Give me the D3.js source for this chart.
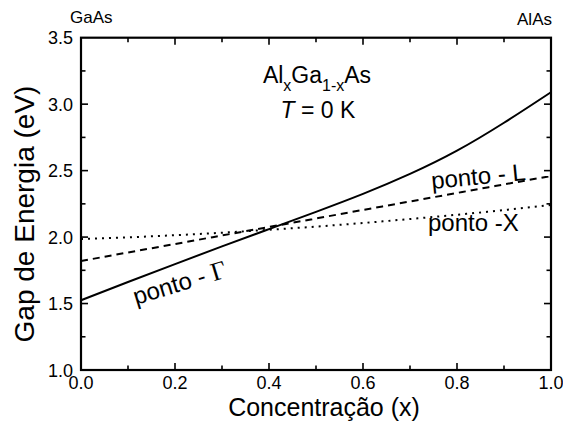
<!DOCTYPE html>
<html>
<head>
<meta charset="utf-8">
<script src="https://cdn.jsdelivr.net/npm/d3@7"></script>
<style>
  html, body { margin: 0; padding: 0; background: #fff; }
  svg { display: block; font-family: "Liberation Sans", Arial, Helvetica, sans-serif; }
</style>
</head>
<body>
<svg id="chart" width="563" height="428"></svg>
<script>
// Band gap of AlxGa1-xAs at T = 0 K versus Al concentration x
const concentration = [0.0, 0.1, 0.2, 0.3, 0.4, 0.5, 0.6, 0.7, 0.8, 0.9, 1.0];
const gammaGap = [1.525, 1.662, 1.797, 1.93, 2.06, 2.19, 2.325, 2.475, 2.65, 2.86, 3.09];
const lGap     = [1.82, 1.884, 1.948, 2.012, 2.076, 2.14, 2.204, 2.268, 2.332, 2.396, 2.46];
const xGap     = [1.985, 1.998, 2.014, 2.033, 2.055, 2.079, 2.106, 2.136, 2.168, 2.203, 2.241];

const xTickLabels = ["0.0", "0.2", "0.4", "0.6", "0.8", "1.0"];
const yTickLabels = ["1.0", "1.5", "2.0", "2.5", "3.0", "3.5"];
const xMinorTicks = [0.1, 0.2, 0.3, 0.4, 0.5, 0.6, 0.7, 0.8, 0.9];
const yMinorTicks = [1.25, 1.5, 1.75, 2.0, 2.25, 2.5, 2.75, 3.0, 3.25];

const svg = d3.select("#chart");
const m = { left: 81, right: 551, top: 37.7, bottom: 370 };

const x = d3.scaleLinear().domain([0, 1]).range([m.left, m.right]);
const y = d3.scaleLinear().domain([1.0, 3.5]).range([m.bottom, m.top]);

const plot = svg.append("g");

// curves
const series = [
  { values: gammaGap, dash: null },
  { values: lGap, dash: "7,5" },
  { values: xGap, dash: "2,5" }
];
const line = d3.line()
  .x((d, i) => x(concentration[i]))
  .y(d => y(d))
  .curve(d3.curveNatural);

series.forEach(s => {
  plot.append("path")
    .attr("d", line(s.values))
    .attr("fill", "none")
    .attr("stroke", "#000")
    .attr("stroke-width", 2)
    .attr("stroke-dasharray", s.dash);
});

// inward ticks on all four sides
const ax = svg.append("g").attr("stroke", "#000").attr("stroke-width", 1.6);
const xMajor = xTickLabels.map(Number);
const yMajor = yTickLabels.map(Number);
function tickLen(v, majors) { return majors.some(mv => Math.abs(mv - v) < 1e-9) ? 7 : 4.5; }

xMinorTicks.forEach(v => {
  const L = tickLen(v, xMajor);
  ax.append("line").attr("x1", x(v)).attr("x2", x(v)).attr("y1", m.bottom).attr("y2", m.bottom - L);
  ax.append("line").attr("x1", x(v)).attr("x2", x(v)).attr("y1", m.top).attr("y2", m.top + L);
});
yMinorTicks.forEach(v => {
  const L = tickLen(v, yMajor);
  ax.append("line").attr("y1", y(v)).attr("y2", y(v)).attr("x1", m.left).attr("x2", m.left + L);
  ax.append("line").attr("y1", y(v)).attr("y2", y(v)).attr("x1", m.right).attr("x2", m.right - L);
});

// frame
svg.append("rect")
  .attr("x", m.left).attr("y", m.top)
  .attr("width", m.right - m.left).attr("height", m.bottom - m.top)
  .attr("fill", "none").attr("stroke", "#000").attr("stroke-width", 2.2);

// tick labels
const lab = svg.append("g").attr("font-size", 18).attr("fill", "#000");
xTickLabels.forEach(t => {
  lab.append("text").attr("x", x(+t)).attr("y", m.bottom + 19)
    .attr("text-anchor", "middle").text(t);
});
yTickLabels.forEach(t => {
  lab.append("text").attr("x", m.left - 8).attr("y", y(+t) + 6.5)
    .attr("text-anchor", "end").text(t);
});

// axis titles
svg.append("text")
  .attr("x", 324).attr("y", 416)
  .attr("text-anchor", "middle").attr("font-size", 25)
  .text("Concentração (x)");
svg.append("text")
  .attr("transform", "translate(34,214) rotate(-90)")
  .attr("text-anchor", "middle").attr("font-size", 28)
  .text("Gap de Energia (eV)");

// end-member labels
svg.append("text").attr("x", 70).attr("y", 23).attr("font-size", 17).text("GaAs");
svg.append("text").attr("x", 552).attr("y", 25).attr("text-anchor", "end").attr("font-size", 17).text("AlAs");

// compound / temperature annotation
const title = svg.append("text").attr("x", 317).attr("y", 83)
  .attr("text-anchor", "middle").attr("font-size", 23);
title.append("tspan").text("Al");
title.append("tspan").attr("font-size", 16).attr("dy", 8).text("x");
title.append("tspan").attr("dy", -8).text("Ga");
title.append("tspan").attr("font-size", 16).attr("dy", 8).text("1-x");
title.append("tspan").attr("dy", -8).text("As");

const temp = svg.append("text").attr("x", 318).attr("y", 118)
  .attr("text-anchor", "middle").attr("font-size", 23);
temp.append("tspan").attr("font-style", "italic").text("T");
temp.append("tspan").text(" = 0 K");

// curve labels
const g1 = svg.append("text")
  .attr("transform", "translate(136,305) rotate(-17)")
  .attr("font-size", 24);
g1.append("tspan").text("ponto - ");
g1.append("tspan").attr("font-family", "'Liberation Serif', 'Times New Roman', serif").attr("font-size", 26).text("Γ");

svg.append("text")
  .attr("transform", "translate(432,189) rotate(-5.5)")
  .attr("font-size", 24).text("ponto - L");

svg.append("text")
  .attr("x", 428).attr("y", 231)
  .attr("font-size", 24).text("ponto -X");
</script>
</body>
</html>
